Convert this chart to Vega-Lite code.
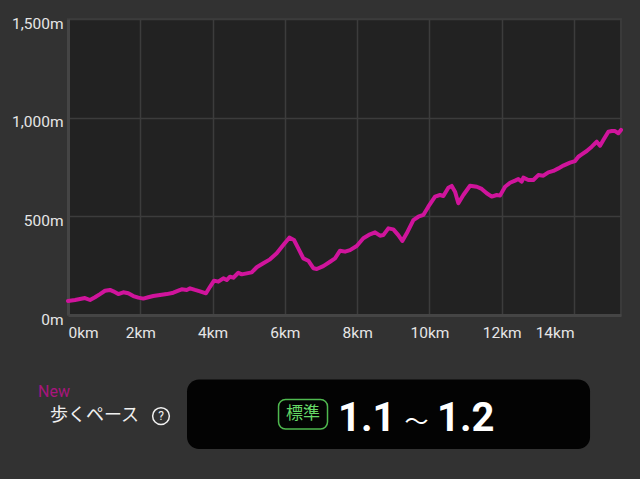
{
  "$schema": "https://vega.github.io/schema/vega-lite/v6.json",
  "width": 553,
  "height": 296,
  "autosize": {"type": "none"},
  "padding": {"left": 68, "top": 19, "right": 19, "bottom": 164},
  "background": "#323232",
  "config": {
    "view": {"fill": "#222222", "stroke": "#3a3a3a", "strokeWidth": 2},
    "font": "Roboto"
  },
  "data": {
    "values": [
      {"km": 0, "elev": 71}, {"km": 0.194, "elev": 76}, {"km": 0.332, "elev": 81}, {"km": 0.47, "elev": 86},
      {"km": 0.609, "elev": 76}, {"km": 0.747, "elev": 90}, {"km": 0.885, "elev": 106}, {"km": 1.024, "elev": 123},
      {"km": 1.162, "elev": 127}, {"km": 1.253, "elev": 120}, {"km": 1.392, "elev": 106}, {"km": 1.53, "elev": 115},
      {"km": 1.668, "elev": 110}, {"km": 1.807, "elev": 96}, {"km": 1.945, "elev": 88}, {"km": 2.084, "elev": 83},
      {"km": 2.222, "elev": 90}, {"km": 2.36, "elev": 96}, {"km": 2.546, "elev": 101}, {"km": 2.731, "elev": 106},
      {"km": 2.914, "elev": 113}, {"km": 3.052, "elev": 123}, {"km": 3.146, "elev": 130}, {"km": 3.284, "elev": 127},
      {"km": 3.376, "elev": 135}, {"km": 3.514, "elev": 127}, {"km": 3.652, "elev": 120}, {"km": 3.818, "elev": 110},
      {"km": 3.929, "elev": 143}, {"km": 4.04, "elev": 174}, {"km": 4.159, "elev": 169}, {"km": 4.297, "elev": 186},
      {"km": 4.391, "elev": 177}, {"km": 4.482, "elev": 194}, {"km": 4.574, "elev": 189}, {"km": 4.712, "elev": 214},
      {"km": 4.806, "elev": 206}, {"km": 4.945, "elev": 211}, {"km": 5.083, "elev": 216}, {"km": 5.221, "elev": 242},
      {"km": 5.404, "elev": 262}, {"km": 5.589, "elev": 282}, {"km": 5.775, "elev": 313}, {"km": 5.957, "elev": 355},
      {"km": 6.123, "elev": 392}, {"km": 6.253, "elev": 380}, {"km": 6.372, "elev": 338}, {"km": 6.511, "elev": 287},
      {"km": 6.649, "elev": 275}, {"km": 6.788, "elev": 237}, {"km": 6.882, "elev": 233}, {"km": 7.064, "elev": 248},
      {"km": 7.25, "elev": 270}, {"km": 7.388, "elev": 287}, {"km": 7.526, "elev": 326}, {"km": 7.665, "elev": 321},
      {"km": 7.803, "elev": 329}, {"km": 7.988, "elev": 350}, {"km": 8.171, "elev": 389}, {"km": 8.356, "elev": 409},
      {"km": 8.495, "elev": 419}, {"km": 8.633, "elev": 402}, {"km": 8.724, "elev": 405}, {"km": 8.863, "elev": 439},
      {"km": 9.001, "elev": 434}, {"km": 9.139, "elev": 405}, {"km": 9.25, "elev": 375}, {"km": 9.372, "elev": 414},
      {"km": 9.555, "elev": 481}, {"km": 9.693, "elev": 498}, {"km": 9.831, "elev": 507}, {"km": 9.969, "elev": 549},
      {"km": 10.155, "elev": 600}, {"km": 10.293, "elev": 608}, {"km": 10.385, "elev": 603}, {"km": 10.523, "elev": 645},
      {"km": 10.617, "elev": 654}, {"km": 10.708, "elev": 625}, {"km": 10.8, "elev": 566}, {"km": 10.938, "elev": 608},
      {"km": 11.123, "elev": 655}, {"km": 11.309, "elev": 650}, {"km": 11.447, "elev": 639}, {"km": 11.585, "elev": 617},
      {"km": 11.724, "elev": 600}, {"km": 11.862, "elev": 608}, {"km": 11.953, "elev": 605}, {"km": 12.092, "elev": 650},
      {"km": 12.23, "elev": 670}, {"km": 12.369, "elev": 681}, {"km": 12.46, "elev": 689}, {"km": 12.554, "elev": 676},
      {"km": 12.598, "elev": 696}, {"km": 12.737, "elev": 684}, {"km": 12.875, "elev": 684}, {"km": 13.013, "elev": 709},
      {"km": 13.152, "elev": 706}, {"km": 13.29, "elev": 723}, {"km": 13.428, "elev": 730}, {"km": 13.567, "elev": 743},
      {"km": 13.705, "elev": 757}, {"km": 13.89, "elev": 772}, {"km": 14.029, "elev": 780}, {"km": 14.12, "elev": 802},
      {"km": 14.214, "elev": 814}, {"km": 14.352, "elev": 831}, {"km": 14.491, "elev": 853}, {"km": 14.629, "elev": 878},
      {"km": 14.72, "elev": 858}, {"km": 14.812, "elev": 887}, {"km": 14.95, "elev": 929}, {"km": 15.044, "elev": 932},
      {"km": 15.135, "elev": 932}, {"km": 15.227, "elev": 921}, {"km": 15.3, "elev": 938}
    ]
  },
  "layer": [
    {
      "mark": {"type": "line", "color": "#d0149c", "strokeWidth": 4, "strokeJoin": "round", "strokeCap": "round"},
      "encoding": {
        "x": {
          "field": "km", "type": "quantitative",
          "scale": {"domain": [0, 15.3], "nice": false, "zero": false},
          "axis": {
            "title": null,
            "values": [0, 2, 4, 6, 8, 10, 12, 14],
            "labelExpr": "datum.value + 'km'",
            "grid": true, "gridColor": "#3c3c3c", "gridWidth": 1.5,
            "ticks": false,
            "domain": true, "domainColor": "#454545", "domainWidth": 3,
            "labelColor": "#e6e6e6", "labelFont": "Roboto", "labelFontSize": 15.5,
            "labelPadding": 10,
            "labelFlush": false,
            "labelAlign": {"condition": [{"test": "datum.value == 0", "value": "left"}, {"test": "datum.value == 14", "value": "right"}], "value": "center"}
          }
        },
        "y": {
          "field": "elev", "type": "quantitative",
          "scale": {"domain": [0, 1500], "nice": false},
          "axis": {
            "title": null,
            "values": [0, 500, 1000, 1500],
            "labelExpr": "format(datum.value, ',') + 'm'",
            "grid": true, "gridColor": "#3c3c3c", "gridWidth": 1.5,
            "ticks": false,
            "domain": true, "domainColor": "#454545", "domainWidth": 3,
            "labelColor": "#e6e6e6", "labelFont": "Roboto", "labelFontSize": 15.5,
            "labelPadding": 5, "labelOffset": 4
          }
        }
      }
    },
    {
      "data": {"values": [{}]},
      "mark": {"type": "text", "text": "New", "font": "Roboto", "fontSize": 16, "color": "#a8157d", "align": "left", "baseline": "alphabetic"},
      "encoding": {"x": {"datum": -0.83, "type": "quantitative"}, "y": {"datum": -418, "type": "quantitative"}}
    },
    {
      "data": {"values": [{}]},
      "mark": {"type": "text", "text": "歩くペース", "font": "Noto Sans CJK JP", "fontSize": 18, "color": "#f0f0f0", "align": "left", "baseline": "middle"},
      "encoding": {"x": {"datum": -0.498, "type": "quantitative"}, "y": {"datum": -514, "type": "quantitative"}}
    },
    {
      "data": {"values": [{}]},
      "mark": {"type": "point", "shape": "circle", "filled": false, "stroke": "#f0f0f0", "strokeWidth": 1.5, "size": 280, "opacity": 1},
      "encoding": {"x": {"datum": 2.573, "type": "quantitative"}, "y": {"datum": -512, "type": "quantitative"}}
    },
    {
      "data": {"values": [{}]},
      "mark": {"type": "text", "text": "?", "font": "Roboto", "fontSize": 12, "color": "#f0f0f0", "align": "center", "baseline": "middle"},
      "encoding": {"x": {"datum": 2.573, "type": "quantitative"}, "y": {"datum": -512, "type": "quantitative"}}
    },
    {
      "data": {"values": [{}]},
      "mark": {"type": "rect", "color": "#030303", "cornerRadius": 12},
      "encoding": {
        "x": {"datum": 3.293, "type": "quantitative"}, "x2": {"datum": 14.444},
        "y": {"datum": -327, "type": "quantitative"}, "y2": {"datum": -679}
      }
    },
    {
      "data": {"values": [{}]},
      "mark": {"type": "rect", "fill": "#030303", "stroke": "#4fb84f", "strokeWidth": 1.5, "cornerRadius": 7},
      "encoding": {
        "x": {"datum": 5.825, "type": "quantitative"}, "x2": {"datum": 7.18},
        "y": {"datum": -428, "type": "quantitative"}, "y2": {"datum": -578}
      }
    },
    {
      "data": {"values": [{}]},
      "mark": {"type": "text", "text": "標準", "font": "Noto Sans CJK JP", "fontSize": 17, "color": "#66d966", "align": "center", "baseline": "middle"},
      "encoding": {"x": {"datum": 6.502, "type": "quantitative"}, "y": {"datum": -504, "type": "quantitative"}}
    },
    {
      "data": {"values": [{}]},
      "mark": {"type": "text", "text": "1.1", "font": "Roboto", "fontWeight": "bold", "fontSize": 40, "color": "#ffffff", "align": "left", "baseline": "alphabetic"},
      "encoding": {"x": {"datum": 7.471, "type": "quantitative"}, "y": {"datum": -588, "type": "quantitative"}}
    },
    {
      "data": {"values": [{}]},
      "mark": {"type": "text", "text": "〜", "font": "Noto Sans CJK JP", "fontSize": 24, "color": "#ffffff", "align": "center", "baseline": "middle"},
      "encoding": {"x": {"datum": 9.643, "type": "quantitative"}, "y": {"datum": -545, "type": "quantitative"}}
    },
    {
      "data": {"values": [{}]},
      "mark": {"type": "text", "text": "1.2", "font": "Roboto", "fontWeight": "bold", "fontSize": 40, "color": "#ffffff", "align": "left", "baseline": "alphabetic"},
      "encoding": {"x": {"datum": 10.21, "type": "quantitative"}, "y": {"datum": -588, "type": "quantitative"}}
    }
  ]
}
